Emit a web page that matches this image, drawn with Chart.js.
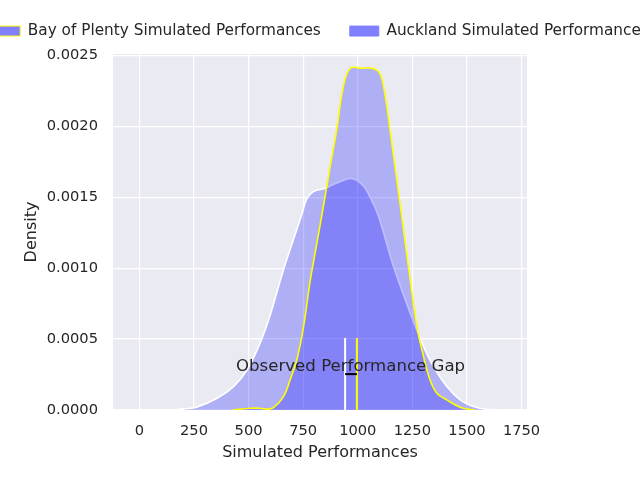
<!DOCTYPE html>
<html>
<head>
<meta charset="utf-8">
<script src="https://cdn.jsdelivr.net/npm/chart.js@4/dist/chart.umd.min.js"></script>
<style>
  html, body { margin: 0; padding: 0; width: 640px; height: 480px; overflow: hidden; background: #fff; }
  #wrap { position: absolute; left: -60px; top: 0; width: 760px; height: 480px; }
</style>
</head>
<body>
<div id="wrap"><canvas id="chart" width="760" height="480"></canvas></div>
<script>
const seriesNames = ["Bay of Plenty Simulated Performances", "Auckland Simulated Performances"];

// Bay of Plenty density curve (yellow edge)
const bopX = [426, 507, 552, 588, 614, 660, 690, 721, 751, 782, 812, 843, 874, 904, 934, 965, 1021, 1070, 1102, 1126, 1148, 1179, 1209, 1232, 1271, 1301, 1331, 1362, 1408, 1469, 1515, 1535];
const bopY = [0, 0.000012, 0.000012, 0.000006, 0.000016, 0.000094, 0.000212, 0.000354, 0.00058, 0.00091, 0.00117, 0.00144, 0.00172, 0.00198, 0.00228, 0.002408, 0.00241, 0.002408, 0.00237, 0.00221, 0.00197, 0.00162, 0.00128, 0.00101, 0.00059, 0.000378, 0.000212, 0.000118, 0.000071, 0.000019, 0.000003, 0];

// Auckland density curve (white edge)
const aklX = [154, 205, 265, 356, 431, 492, 552, 599, 622, 660, 705, 744, 767, 797, 843, 904, 973, 1026, 1056, 1087, 1118, 1164, 1240, 1301, 1346, 1408, 1469, 1530, 1590, 1656];
const aklY = [0, 0.000008, 0.000022, 0.000083, 0.000165, 0.00028, 0.00047, 0.00067, 0.00079, 0.00099, 0.0012, 0.00138, 0.00149, 0.00154, 0.00156, 0.0016, 0.001632, 0.00158, 0.0015, 0.0014, 0.00125, 0.00101, 0.000685, 0.000448, 0.000307, 0.000165, 0.000071, 0.000024, 0.000005, 0];

// observed performances and the gap marker
const observedX = [942, 996];   // Auckland, Bay of Plenty
const observedTop = 0.000508;
const gapBarY = 0.000253;
const gapLabel = "Observed Performance Gap";
const gapLabelX = 967;
const gapLabelY = 0.000307;

const xTicks = [0, 250, 500, 750, 1000, 1250, 1500, 1750];
const yTicks = [0, 0.0005, 0.001, 0.0015, 0.002, 0.0025];

const fillBlue = "rgba(0, 0, 255, 0.25)";
const textColor = "#262626";

Chart.defaults.font.family = "DejaVu Sans";
Chart.defaults.color = textColor;

const toPoints = (xs, ys) => xs.map((x, i) => ({ x: x, y: ys[i] }));
const setTicks = (values) => (scale) => { scale.ticks = values.map((v) => ({ value: v })); };

const plotBg = {
  id: "plotBg",
  beforeDraw(chart) {
    const { ctx, chartArea: a } = chart;
    ctx.save();
    ctx.fillStyle = "#eaeaf2";
    ctx.fillRect(a.left, a.top, a.right - a.left, a.bottom - a.top);
    ctx.restore();
  },
};

const gapText = {
  id: "gapText",
  afterDatasetsDraw(chart) {
    const { ctx, scales } = chart;
    ctx.save();
    ctx.font = "16.6px 'DejaVu Sans'";
    ctx.fillStyle = textColor;
    ctx.textAlign = "center";
    ctx.textBaseline = "middle";
    ctx.fillText(gapLabel, scales.x.getPixelForValue(gapLabelX), scales.y.getPixelForValue(gapLabelY));
    ctx.restore();
  },
};

const curve = {
  backgroundColor: fillBlue,
  borderWidth: 1.6,
  fill: "origin",
  pointRadius: 0,
  tension: 0.4,
};

const data = {
  datasets: [
    { ...curve, label: seriesNames[0], data: toPoints(bopX, bopY), borderColor: "#ffff00" },
    { ...curve, label: seriesNames[1], data: toPoints(aklX, aklY), borderColor: "#ffffff" },
    {
      label: "akl observed",
      data: [{ x: observedX[0], y: 0 }, { x: observedX[0], y: observedTop }],
      borderColor: "#ffffff",
      borderWidth: 2,
      pointRadius: 0,
      fill: false,
      order: -1,
    },
    {
      label: "bop observed",
      data: [{ x: observedX[1], y: 0 }, { x: observedX[1], y: observedTop }],
      borderColor: "#ffff00",
      borderWidth: 2,
      pointRadius: 0,
      fill: false,
      order: -1,
    },
    {
      label: "gap",
      data: [{ x: observedX[0], y: gapBarY }, { x: observedX[1], y: gapBarY }],
      borderColor: "#000000",
      borderWidth: 2,
      pointRadius: 0,
      fill: false,
      order: -2,
    },
  ],
};

const config = {
  type: "line",
  data: data,
  plugins: [plotBg, gapText],
  options: {
    responsive: false,
    animation: false,
    devicePixelRatio: 1,
    layout: { padding: { top: -5.6, left: 0, right: 0, bottom: 0 } },
    plugins: {
      legend: {
        position: "top",
        labels: {
          boxWidth: 29,
          boxHeight: 10,
          padding: 29,
          font: { size: 15.3 },
          color: textColor,
          filter: (item) => item.datasetIndex < 2,
          generateLabels: (chart) =>
            Chart.defaults.plugins.legend.labels.generateLabels(chart).map((item) => ({
              ...item,
              fillStyle: "#8080ff",
              strokeStyle: item.datasetIndex === 0 ? "#ffff00" : "#8080ff",
              lineWidth: 1,
            })),
        },
      },
      tooltip: { enabled: false },
    },
    scales: {
      x: {
        type: "linear",
        min: -121,
        max: 1775,
        bounds: "data",
        afterBuildTicks: setTicks(xTicks),
        grid: { color: "#ffffff", lineWidth: 1.2, drawTicks: false },
        border: { display: false },
        ticks: { padding: 12, maxRotation: 0, autoSkip: false, font: { size: 14.67 }, callback: (v) => String(v) },
        title: { display: true, text: "Simulated Performances", font: { size: 16 }, padding: { top: 0, bottom: 18 } },
        afterFit: (s) => { s.height = 70; },
      },
      xTop: {
        type: "linear",
        position: "top",
        grid: { display: false },
        border: { display: false },
        ticks: { display: false },
        afterFit: (s) => { s.height = 5.3; },
      },
      y: {
        min: 0,
        max: 0.00251,
        bounds: "data",
        afterBuildTicks: setTicks(yTicks),
        grid: { color: "#ffffff", lineWidth: 1.2, drawTicks: false },
        border: { display: false },
        ticks: { padding: 15, autoSkip: false, font: { size: 14.67 }, callback: (v) => v.toFixed(4) },
        title: { display: true, text: "Density", font: { size: 16 }, padding: { top: 82, bottom: 0 } },
        afterFit: (s) => { s.width = 173; },
      },
      yRight: {
        position: "right",
        grid: { display: false },
        border: { display: false },
        ticks: { display: false },
        afterFit: (s) => { s.width = 173; },
      },
    },
  },
};

const myChart = new Chart(document.getElementById("chart"), config);
</script>
</body>
</html>
